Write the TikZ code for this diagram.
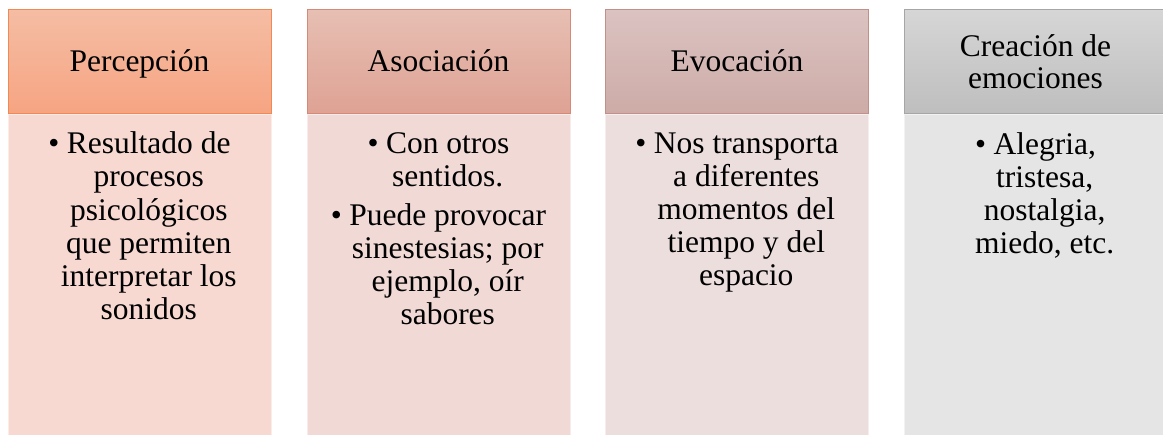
\documentclass[tikz,border=0pt]{standalone}
\usepackage{fontspec}
\setmainfont{Liberation Serif}
\definecolor{hAt}{RGB}{245,189,164}
\definecolor{hAb}{RGB}{246,164,130}
\definecolor{hAd}{RGB}{240,137,82}
\definecolor{bA}{RGB}{247,217,209}
\definecolor{hBt}{RGB}{231,191,179}
\definecolor{hBb}{RGB}{222,162,148}
\definecolor{hBd}{RGB}{214,137,119}
\definecolor{bB}{RGB}{241,218,214}
\definecolor{hCt}{RGB}{219,195,193}
\definecolor{hCb}{RGB}{205,171,167}
\definecolor{hCd}{RGB}{193,144,139}
\definecolor{bC}{RGB}{237,222,222}
\definecolor{hDt}{RGB}{214,214,214}
\definecolor{hDb}{RGB}{190,190,190}
\definecolor{hDd}{RGB}{166,166,166}
\definecolor{bD}{RGB}{229,229,229}
\newcommand{\bul}{\makebox[18.5pt][l]{\textbullet}}
\begin{document}
\begin{tikzpicture}[x=1pt,y=-1pt,
  hdr/.style={line width=1pt, minimum width=263pt, minimum height=104.5pt, inner sep=0pt, outer sep=0pt, anchor=north west},
  bdy/.style={line width=0.8pt, minimum width=263pt, minimum height=330pt, inner sep=0pt, outer sep=0pt, anchor=north west},
  txt/.style={font=\fontsize{31.5}{33}\selectfont, inner sep=0pt, anchor=base}]
\useasboundingbox (0,0) rectangle (1163,435);
\clip (0,0) rectangle (1163,435);
% bodies
\node[bdy, fill=bA, draw=bA!50!white] (bodyA) at (8,114) {};
\node[bdy, fill=bB, draw=bB!50!white] (bodyB) at (307,114) {};
\node[bdy, fill=bC, draw=bC!50!white] (bodyC) at (605.5,114) {};
\node[bdy, fill=bD, draw=bD!50!white] (bodyD) at (904,114) {};
% headers
\node[hdr, top color=hAt, bottom color=hAb, draw=hAd] (headA) at (8,9.5) {};
\node[hdr, top color=hBt, bottom color=hBb, draw=hBd] (headB) at (307,9.5) {};
\node[hdr, top color=hCt, bottom color=hCb, draw=hCd] (headC) at (605.5,9.5) {};
\node[hdr, top color=hDt, bottom color=hDb, draw=hDd] (headD) at (904,9.5) {};
% header titles
\node[txt] (tA) at (139.5,71.7) {Percepción};
\node[txt] (tB) at (438.5,71.7) {Asociación};
\node[txt] (tC) at (737,71.7) {Evocación};
\node[txt] (tD1) at (1035.5,56.7) {Creación de};
\node[txt] (tD2) at (1035.5,88.3) {emociones};
% column A
\node[txt] (a1) at (139.5,153.5) {\bul Resultado de};
\node[txt] (a2) at (148.75,186.8) {procesos};
\node[txt] (a3) at (148.75,220.1) {psicológicos};
\node[txt] (a4) at (148.75,253.4) {que permiten};
\node[txt] (a5) at (148.75,286.7) {interpretar los};
\node[txt] (a6) at (148.75,320) {sonidos};
% column B
\node[txt] (b1) at (438.5,153.5) {\bul Con otros};
\node[txt] (b2) at (447.75,186.8) {sentidos.};
\node[txt] (b3) at (438.5,225.1) {\bul Puede provocar};
\node[txt] (b4) at (447.75,258.4) {sinestesias; por};
\node[txt] (b5) at (447.75,291.7) {ejemplo, oír};
\node[txt] (b6) at (447.75,325) {sabores};
% column C
\node[txt] (c1) at (737,154) {\bul Nos transporta};
\node[txt] (c2) at (746.25,187) {a diferentes};
\node[txt] (c3) at (746.25,220) {momentos del};
\node[txt] (c4) at (746.25,253) {tiempo y del};
\node[txt] (c5) at (746.25,286) {espacio};
% column D
\node[txt] (d1) at (1035.5,154.3) {\bul Alegria,};
\node[txt] (d2) at (1044.75,187.3) {tristesa,};
\node[txt] (d3) at (1044.75,220.3) {nostalgia,};
\node[txt] (d4) at (1044.75,253.3) {miedo, etc.};
\end{tikzpicture}
\end{document}
